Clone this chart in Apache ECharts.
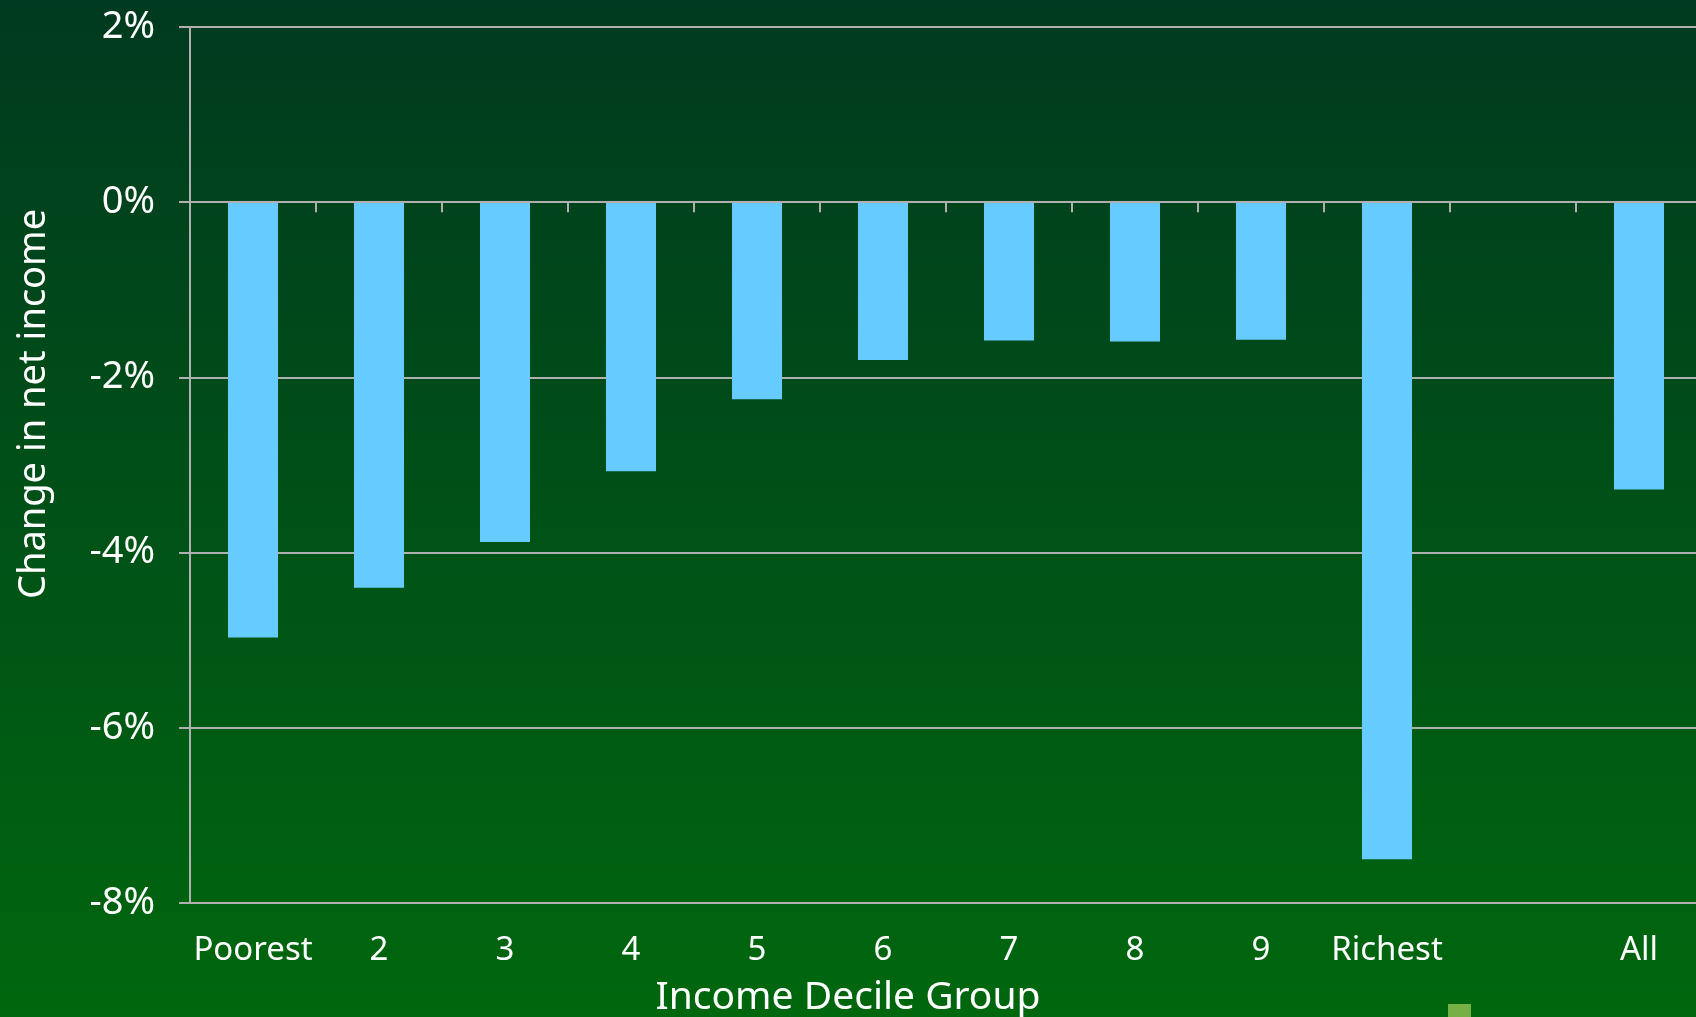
<!DOCTYPE html>
<html>
<head>
<meta charset="utf-8">
<script src="https://cdn.jsdelivr.net/npm/echarts@6/dist/echarts.min.js"></script>
<style>
html,body{margin:0;padding:0;background:#004a18;}
#chart{width:1696px;height:1017px;}
</style>
</head>
<body>
<div id="chart"></div>
<script>
const categories = ['Poorest', '2', '3', '4', '5', '6', '7', '8', '9', 'Richest', '', 'All'];
const changeInNetIncome = [-4.97, -4.40, -3.88, -3.07, -2.25, -1.80, -1.58, -1.59, -1.57, -7.50, null, -3.28];
const yTicks = { min: -8, max: 2, interval: 2 };
const yAxisTitle = 'Change in net income';
const xAxisTitle = 'Income Decile Group';

const FONT = 'Noto Sans';
const GREY = '#b0b0b0';

const chart = echarts.init(document.getElementById('chart'));
chart.setOption({
  backgroundColor: {
    type: 'linear', x: 0, y: 0, x2: 0, y2: 1,
    colorStops: [{ offset: 0, color: '#003a20' }, { offset: 1, color: '#00670e' }]
  },
  animation: false,
  textStyle: { fontFamily: FONT },
  title: {
    text: xAxisTitle,
    left: 'center',
    top: 978,
    padding: 0,
    textStyle: { color: '#ffffff', fontSize: 39, fontWeight: 'normal', fontFamily: FONT }
  },
  legend: {
    data: ['Series 2'],
    left: 1448,
    top: 1004,
    padding: 0,
    itemWidth: 23,
    itemHeight: 23,
    icon: 'rect',
    formatter: () => '',
    selectedMode: false
  },
  grid: { left: 190, top: 27, width: 1512, bottom: 114, containLabel: false, outerBoundsMode: 'none' },
  graphic: [{
    type: 'text',
    rotation: Math.PI / 2,
    x: 34, y: 404,
    style: {
      text: yAxisTitle,
      fill: '#ffffff',
      font: '38px "Noto Sans"',
      align: 'center',
      verticalAlign: 'middle'
    }
  }],
  xAxis: [{
    type: 'category',
    data: categories,
    position: 'bottom',
    axisLine: { show: false, onZero: false },
    axisTick: { show: false },
    axisLabel: { color: '#ffffff', fontSize: 33, margin: 31, interval: 0, fontFamily: FONT },
    splitLine: { show: false }
  }, {
    type: 'category',
    data: categories,
    position: 'bottom',
    z: 5,
    axisLine: { show: true, onZero: true, lineStyle: { color: GREY, width: 2 } },
    axisTick: { show: true, length: 10, lineStyle: { color: GREY, width: 2 } },
    axisLabel: { show: false },
    splitLine: { show: false }
  }],
  yAxis: {
    type: 'value',
    min: yTicks.min,
    max: yTicks.max,
    interval: yTicks.interval,
    axisLine: { show: true, lineStyle: { color: GREY, width: 2 } },
    axisTick: { show: true, length: 11, lineStyle: { color: GREY, width: 2 } },
    axisLabel: { color: '#ffffff', fontSize: 38, margin: 35, formatter: '{value}%', fontFamily: FONT },
    splitLine: { show: true, lineStyle: { color: GREY, width: 2 } }
  },
  series: [{
    name: 'Change',
    type: 'bar',
    data: changeInNetIncome,
    xAxisIndex: 0,
    barWidth: 50,
    itemStyle: { color: '#66ccff' }
  }, {
    name: 'Series 2',
    type: 'line',
    data: [],
    xAxisIndex: 0,
    itemStyle: { color: '#77b044' },
    lineStyle: { color: '#77b044' }
  }]
});
</script>
</body>
</html>
